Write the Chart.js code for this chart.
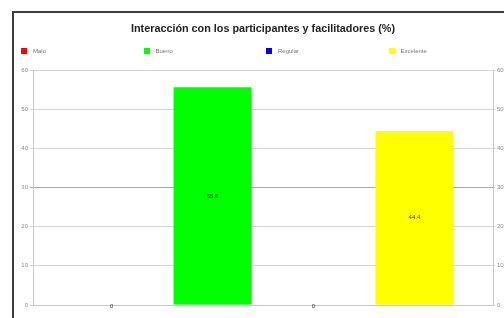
<!DOCTYPE html>
<html>
<head>
<meta charset="utf-8">
<script src="https://cdn.jsdelivr.net/npm/chart.js@4/dist/chart.umd.min.js"></script>
<style>
  html, body { margin: 0; padding: 0; background: #fff; overflow: hidden; }
  body { width: 504px; height: 318px; position: relative; font-family: "Liberation Sans", Arial, sans-serif; }
  #frame { position: absolute; left: 12px; top: 11px; width: 600px; height: 400px;
           border-left: 2px solid #3c3c3c; border-top: 2px solid #3c3c3c; box-sizing: border-box; }
  #title { position: absolute; left: 0; width: 526px; top: 22px; text-align: center;
           font-weight: bold; font-size: 10.8px; color: #222; }
  #legend { position: absolute; left: 21px; top: 48px; display: flex; }
  #legend .item { width: 122.5px; display: flex; align-items: center; font-size: 6px; color: #777; }
  #legend .sw { width: 6px; height: 6px; margin-right: 6px; }
  #wrap { position: absolute; left: 0; top: 0; width: 504px; height: 318px; }
</style>
</head>
<body>
<div id="frame"></div>
<div id="wrap"><canvas id="chart" width="504" height="318"></canvas></div>
<div id="title">Interacción con los participantes y facilitadores (%)</div>
<div id="legend"></div>
<script>
// Interacción con los participantes y facilitadores — barras por valoración
const categories = ["Malo", "Bueno", "Regular", "Excelente"];
const values = [0, 55.6, 0, 44.4];
const barColors = ["#ff0000", "#00ff00", "#0000ff", "#ffff00"];
const yTicks = [0, 10, 20, 30, 40, 50, 60];

const $ = (s) => document.querySelector(s);

$("#legend").innerHTML = categories.map((c, i) => `
  <div class="item"><span class="sw" style="background:${barColors[i]}"></span>${c}</div>`).join("");

// etiquetas de valor dentro de las barras
const valueLabels = {
  id: "valueLabels",
  afterDatasetsDraw(chart) {
    const ctx = chart.ctx;
    ctx.save();
    ctx.font = "6px 'Liberation Sans', Arial, sans-serif";
    ctx.fillStyle = "#333";
    ctx.textAlign = "center";
    ctx.textBaseline = "middle";
    chart.data.datasets.forEach((ds, i) => {
      const bar = chart.getDatasetMeta(i).data[0];
      const v = ds.data[0];
      const y = v === 0 ? bar.base + 1 : (bar.y + bar.base) / 2;
      ctx.fillText(String(v), bar.x, y);
    });
    ctx.restore();
  },
};

const tickFont = { family: "'Liberation Sans', Arial, sans-serif", size: 6 };
const gridColor = (c) => c.tick && c.tick.value === 30 ? "#a8a8a8" : "#d4d4d4";

new Chart($("#chart"), {
  type: "bar",
  data: {
    labels: [""],
    datasets: categories.map((c, i) => ({
      label: c, data: [values[i]],
      backgroundColor: barColors[i], borderWidth: 0,
      categoryPercentage: 0.878, barPercentage: 0.772,
    })),
  },
  options: {
    responsive: false, animation: false,
    layout: { padding: { top: 70, bottom: 5, left: 0, right: 0 } },
    plugins: { legend: { display: false }, tooltip: { enabled: false }, title: { display: false } },
    scales: {
      x: {
        ticks: { display: false },
        grid: { display: false },
        border: { color: "#c8c8c8" },
      },
      y: {
        position: "left", min: 0, max: 60,
        afterBuildTicks: (s) => { s.ticks = yTicks.map((v) => ({ value: v })); },
        afterFit: (s) => { s.width = 33; },
        ticks: { font: tickFont, color: "#888", padding: 2, autoSkip: false },
        grid: { color: gridColor, tickLength: 3 },
        border: { color: "#c8c8c8" },
      },
      y2: {
        position: "right", min: 0, max: 60,
        afterBuildTicks: (s) => { s.ticks = yTicks.map((v) => ({ value: v })); },
        afterFit: (s) => { s.width = 11; },
        ticks: { font: tickFont, color: "#888", padding: 2, autoSkip: false },
        grid: { drawOnChartArea: false, tickLength: 2, color: "#c8c8c8" },
        border: { color: "#c8c8c8" },
      },
    },
  },
  plugins: [valueLabels],
});
</script>
</body>
</html>
